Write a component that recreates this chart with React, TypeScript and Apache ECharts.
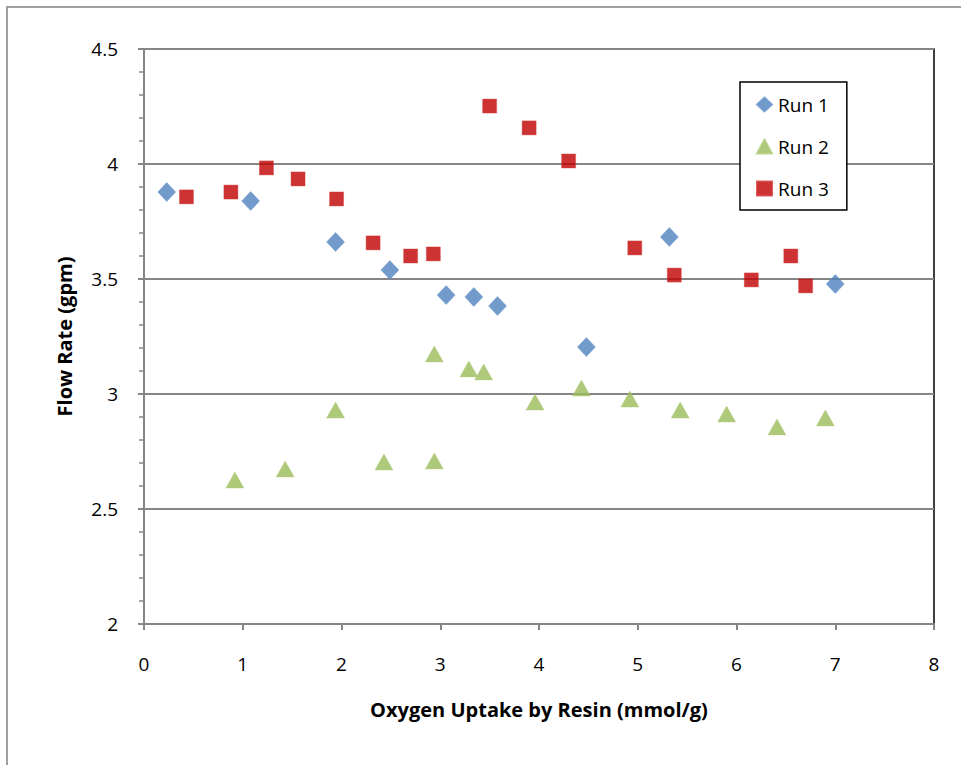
import React, { useEffect, useRef } from "react";
import * as echarts from "echarts";

const run1X = [0.23, 1.08, 1.94, 2.49, 3.06, 3.34, 3.58, 4.48, 5.32, 7.0];
const run1Y = [3.878, 3.839, 3.661, 3.539, 3.43, 3.422, 3.383, 3.204, 3.683, 3.478];

const run2X = [0.92, 1.43, 1.94, 2.43, 2.94, 2.94, 3.29, 3.44, 3.96, 4.43, 4.92, 5.43, 5.9, 6.41, 6.9];
const run2Y = [2.626, 2.674, 2.93, 2.704, 2.709, 3.174, 3.109, 3.096, 2.965, 3.026, 2.978, 2.93, 2.913, 2.857, 2.896];

const run3X = [0.43, 0.88, 1.24, 1.56, 1.95, 2.32, 2.7, 2.93, 3.5, 3.9, 4.3, 4.97, 5.37, 6.15, 6.55, 6.7];
const run3Y = [3.857, 3.878, 3.983, 3.935, 3.848, 3.657, 3.6, 3.609, 4.252, 4.157, 4.013, 3.635, 3.517, 3.496, 3.6, 3.47];

const seriesNames = ["Run 1", "Run 2", "Run 3"];
const xTitle = "Oxygen Uptake by Resin (mmol/g)";
const yTitle = "Flow Rate (gpm)";

const FONT = "'Open Sans', 'Liberation Sans', sans-serif";

function zip(xs: number[], ys: number[]) {
  return xs.map((x, i) => [x, ys[i]]);
}

export default function App() {
  const ref = useRef<HTMLDivElement>(null);
  useEffect(() => {
    if (!ref.current) return;
    const chart = echarts.init(ref.current, undefined, { renderer: "svg" });
    chart.setOption({
      animation: false,
      backgroundColor: "#ffffff",
      graphic: [
        {
          type: "rect",
          shape: { x: 7, y: 7, width: 970, height: 780 },
          style: { fill: "none", stroke: "#a0a0a0", lineWidth: 2 },
          z: 0,
          silent: true,
        },
      ],
      grid: {
        left: 144,
        top: 49,
        right: 27,
        bottom: 141,
        show: true,
        borderColor: "#000000",
        borderWidth: 1.5,
        backgroundColor: "transparent",
      },
      legend: {
        orient: "vertical",
        left: 740,
        top: 82,
        padding: [13, 18, 12, 16],
        itemGap: 23,
        itemWidth: 15,
        itemHeight: 14,
        borderColor: "#000000",
        borderWidth: 1.5,
        backgroundColor: "#ffffff",
        textStyle: { fontFamily: FONT, fontSize: 19, color: "#000000", padding: [0, 0, 0, 1] },
        data: [
          { name: seriesNames[0], icon: "diamond" },
          { name: seriesNames[1], icon: "triangle" },
          { name: seriesNames[2], icon: "rect" },
        ],
      },
      xAxis: {
        type: "value",
        min: 0,
        max: 8,
        interval: 1,
        name: xTitle,
        nameLocation: "middle",
        nameGap: 75,
        nameTextStyle: { fontFamily: FONT, fontSize: 20, fontWeight: "bold", color: "#000000" },
        axisLine: { show: true, onZero: false, lineStyle: { color: "#868686", width: 2 } },
        axisTick: { show: true, inside: false, length: 6, lineStyle: { color: "#868686", width: 2 } },
        axisLabel: { fontFamily: FONT, fontSize: 19, color: "#000000", margin: 30 },
        splitLine: { show: false },
      },
      yAxis: {
        type: "value",
        min: 2,
        max: 4.5,
        interval: 0.5,
        name: yTitle,
        nameLocation: "middle",
        nameGap: 70,
        nameRotate: 90,
        nameTextStyle: { fontFamily: FONT, fontSize: 20, fontWeight: "bold", color: "#000000" },
        axisLine: { show: true, onZero: false, lineStyle: { color: "#868686", width: 2 } },
        axisTick: { show: true, inside: false, length: 6, lineStyle: { color: "#868686", width: 2 } },
        minorTick: { show: true, splitNumber: 5, length: 5, lineStyle: { color: "#868686", width: 1.5 } },
        axisLabel: { fontFamily: FONT, fontSize: 19, color: "#000000", margin: 26 },
        splitLine: { show: true, lineStyle: { color: "#868686", width: 2 } },
      },
      series: [
        {
          name: seriesNames[0],
          type: "scatter",
          symbol: "diamond",
          symbolSize: [18, 19],
          itemStyle: { color: "#4F81BD", borderColor: "#6a97cf", borderWidth: 0.5 },
          data: zip(run1X, run1Y),
        },
        {
          name: seriesNames[1],
          type: "scatter",
          symbol: "triangle",
          symbolSize: [18, 16],
          itemStyle: { color: "#9BBB59", borderColor: "#b0cc78", borderWidth: 0.5 },
          data: zip(run2X, run2Y),
        },
        {
          name: seriesNames[2],
          type: "scatter",
          symbol: "rect",
          symbolSize: 14,
          itemStyle: { color: "#C00000", borderColor: "#d43a3a", borderWidth: 0.5 },
          data: zip(run3X, run3Y),
        },
      ],
    });
    return () => chart.dispose();
  }, []);
  return (
    <div
      ref={ref}
      style={{ position: "fixed", left: 0, top: 0, width: 961, height: 765, background: "#fff" }}
    />
  );
}
